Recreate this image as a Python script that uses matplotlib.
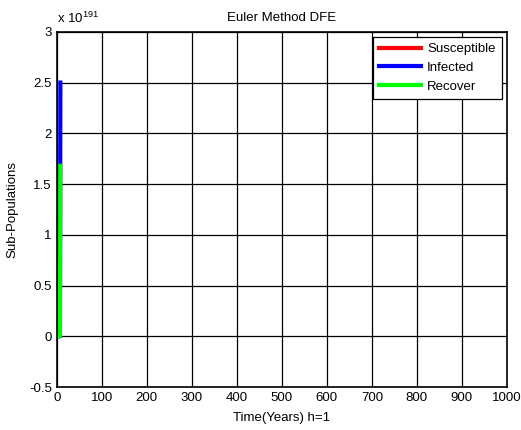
import numpy as np
import matplotlib
matplotlib.use("Agg")
import matplotlib.pyplot as plt
from matplotlib.ticker import FuncFormatter

plt.rcParams['font.family'] = ['Liberation Sans', 'DejaVu Sans']
plt.rcParams['mathtext.fontset'] = 'custom'
plt.rcParams['mathtext.rm'] = 'Liberation Sans'

# Datos de la simulacion (Euler, h=1) - la solucion explota en pocos pasos
tiempo = [0, 1, 2, 3, 4, 5, 6, 7, 8]
susceptibles = [0.99, 0.97, 0.91, 0.62, -4.1, -3.8e3, -2.2e9, -6.5e22, -1.1e51]
infectados = [0.01, 0.03, 0.12, 1.4, 86.0, 2.9e5, 1.7e12, 3.6e32, 2.5e191]
recuperados = [0.0, 0.002, 0.01, 0.11, 6.9, 2.3e4, 1.4e11, 2.9e31, 1.68e191]

escala = 1e191
fs = 9.5

fig = plt.figure(figsize=(5.21, 4.30), dpi=100)
ax = fig.add_axes([0.109, 0.1, 0.864, 0.826])

ax.plot(tiempo, susceptibles, color='#ff0000', lw=3, label='Susceptible')
ax.plot(tiempo, infectados, color='#0000ff', lw=3, label='Infected')
ax.plot(tiempo, recuperados, color='#00ff00', lw=3, label='Recover')

ax.set_xlim(0, 1000)
ax.set_ylim(-0.5 * escala, 3 * escala)
ax.set_xticks(np.arange(0, 1001, 100))
ax.set_yticks(np.arange(-0.5, 3.01, 0.5) * escala)
ax.yaxis.set_major_formatter(FuncFormatter(lambda v, p: f"{v / escala:g}"))

ax.grid(True, color='black', linestyle='-', linewidth=0.9)
ax.set_axisbelow(True)
for s in ax.spines.values():
    s.set_linewidth(1.2)
ax.tick_params(labelsize=fs, length=0, pad=3.5)

ax.set_title("Euler Method DFE", fontsize=fs, pad=8)
ax.set_xlabel("Time(Years) h=1", fontsize=fs, labelpad=6)
ax.set_ylabel("Sub-Populations", fontsize=fs, labelpad=7.5)
ax.text(0.0, 1.015, r"x 10$^{191}$", transform=ax.transAxes, fontsize=fs,
        ha='left', va='bottom')

leg = ax.legend(loc='upper right', fontsize=fs, handlelength=3.2,
                fancybox=False, framealpha=1, edgecolor='black',
                borderaxespad=0.4, labelspacing=0.5, handletextpad=0.45,
                borderpad=0.45)
leg.get_frame().set_linewidth(0.9)

fig.savefig("out.png", dpi=100)
